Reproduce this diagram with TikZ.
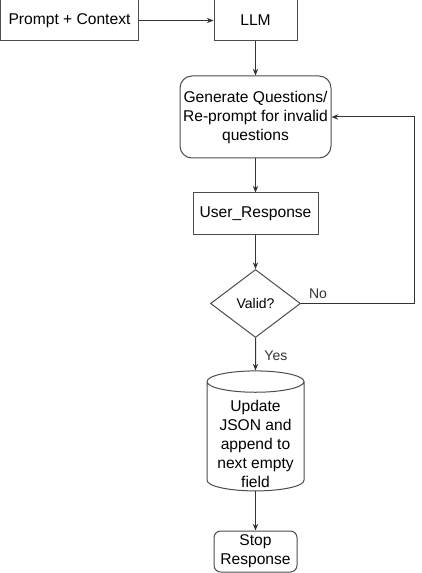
\documentclass[tikz,border=0pt]{standalone}
\usepackage{fontspec}
\setmainfont{Liberation Sans}
\usetikzlibrary{shapes.geometric,arrows.meta}

\begin{document}
\begin{tikzpicture}
[x=0.75pt,y=-0.75pt,%
  flowArrow/.style={-{Stealth[length=5pt,width=4pt]},line width=0.75pt,color=black!80},%
  boxDecorate/.style={shape=rectangle,draw=black!70,line width=0.75pt,
    font=\fontsize{11.7}{14.25}\selectfont,align=center,inner sep=2pt},%
  roundDecorate/.style={boxDecorate,rounded corners=9pt},%
  decideDecorate/.style={shape=diamond,draw=black!70,line width=0.75pt,inner sep=0pt,
    font=\fontsize{10.5}{12}\selectfont,minimum width=67.5pt,minimum height=51pt},%
  storeDecorate/.style={shape=cylinder,shape border rotate=90,aspect=0.22,draw=black!70,
    line width=0.75pt,inner sep=0pt,minimum width=72.75pt,minimum height=90pt},%
  storeText/.style={font=\fontsize{11.7}{14.25}\selectfont,align=center,inner sep=0pt},%
  labelDecorate/.style={font=\fontsize{10.5}{12}\selectfont}]
\useasboundingbox (0,0) rectangle (421,573);
%% plain boxes
\foreach \nodename/\x/\y/\w/\h/\txt in {prompt/69.5/20.5/103/30.75/Prompt + Context,
  llm/255.5/20.5/62.25/30.75/LLM, user/255.5/213.5/93.75/30.75/User\_Response}
{
  \node (\nodename) at (\x,\y) [boxDecorate,minimum width=\w pt,minimum height=\h pt] {\txt};
}
%% other shapes
\node (generate) at (255.5,117) [roundDecorate,minimum width=113.25pt,minimum height=61.5pt]
  {Generate Questions/\\Re-prompt for invalid\\questions};
\node (valid) at (255.5,303.5) [decideDecorate] {Valid?};
\node (update) at (255.5,436.5) [storeDecorate] {\hspace*{72.75pt}};
\node (updateText) at (255.5,444) [storeText] {Update\\JSON and\\append to\\next empty\\field};
\node (stop) at (255.5,551.5) [roundDecorate,rounded corners=5pt,inner sep=1pt,
  minimum width=62.25pt,minimum height=30.75pt] {Stop\\Response};
\coordinate (turn) at (414,303.5);
%% straight edges
\path
\foreach \startnode/\endnode in {llm/generate, generate/user, user/valid, update/stop}
{
  (\startnode.south) edge[flowArrow] (\endnode.north)
}
(prompt.east) edge[flowArrow] (llm.west)
(valid.south) edge[flowArrow] node[labelDecorate,right,pos=0.55,xshift=3pt] {Yes} (update.north);
%% loop back
\draw[flowArrow] (valid.east) -- node[labelDecorate,above,pos=0.15] {No} (turn) |- (generate.east);
\end{tikzpicture}
\end{document}
